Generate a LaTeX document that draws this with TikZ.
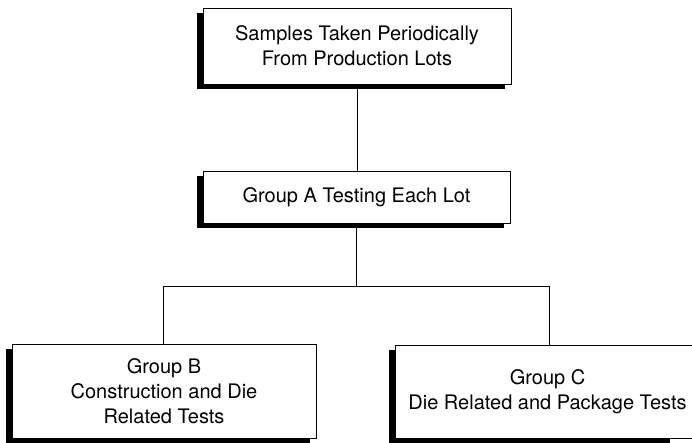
\documentclass[tikz,border=0pt]{standalone}
\usepackage{fontspec}
\setmainfont{TeX Gyre Heros}
\usetikzlibrary{shadows}
\begin{document}
\begin{tikzpicture}[x=1pt,y=-1pt,
  boxtext/.style={inner sep=0pt, align=center, font=\fontsize{20}{25}\selectfont},
  box/.style={boxtext, draw=black, line width=0.9pt, fill=white,
    drop shadow={shadow xshift=-6pt, shadow yshift=-5pt, fill=black, opacity=1}},
  conn/.style={draw=black, line width=0.9pt}]
\useasboundingbox (0,0) rectangle (692,442);
\node[box, minimum width=308pt, minimum height=76pt] (top) at (357,46)
  {Samples Taken Periodically\\From Production Lots};
\node[box, minimum width=307pt, minimum height=52pt] (A) at (356.5,197)
  {Group A Testing Each Lot};
\node[box, minimum width=304pt, minimum height=94pt] (B) at (164,391)
  {Group B\\Construction and Die\\Related Tests};
% Group C: box runs off the right edge of the picture
\fill[black] (389,350) rectangle (670,443);
\fill[white] (395,345) rectangle (710,438);
\draw[line width=0.9pt] (710,345) -- (395,345) -- (395,438) -- (710,438);
\node[boxtext, minimum width=297pt, minimum height=93pt] (C) at (547.5,391.5)
  {Group C\\Die Related and Package Tests};
\coordinate (bj) at (163,286);
\coordinate (cj) at (549,286);
\draw[conn] (top.south) -- (top.south |- A.north);
\draw[conn] (A.south) -- (A.south |- bj);
\draw[conn] (bj) -- (cj);
\draw[conn] (bj) -- (bj |- B.north);
\draw[conn] (cj) -- (cj |- C.north);
\end{tikzpicture}
\end{document}
